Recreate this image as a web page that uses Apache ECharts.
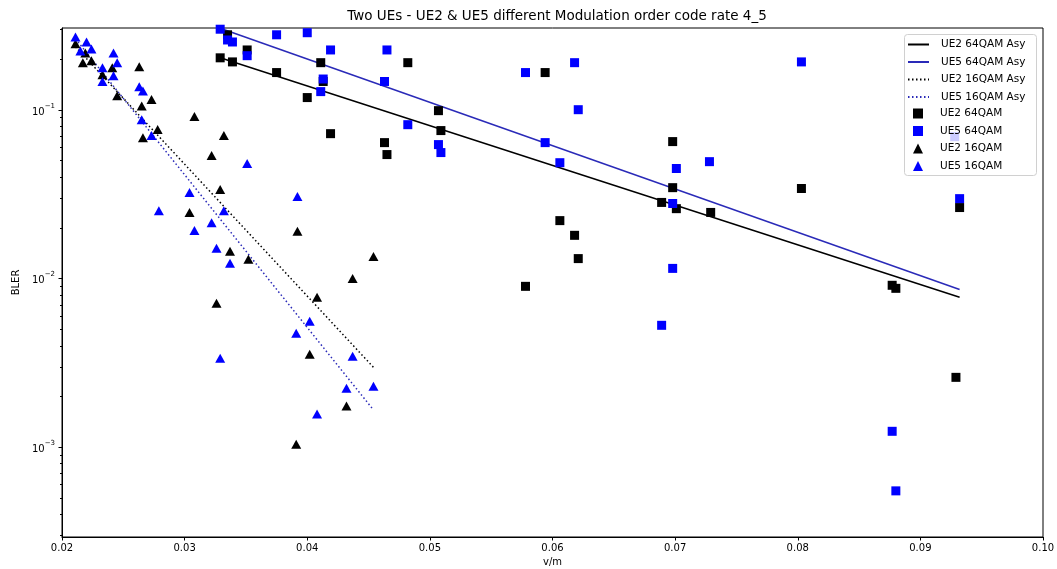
<!DOCTYPE html>
<html>
<head>
<meta charset="utf-8">
<title>Two UEs - BLER</title>
<script src="https://cdn.jsdelivr.net/npm/echarts@6/dist/echarts.min.js"></script>
<style>
  html, body { margin: 0; padding: 0; background: #fff; }
  #chart { width: 1057px; height: 569px; }
</style>
</head>
<body>
<div id="chart"></div>
<script>
const FONT = 'DejaVu Sans';

// UE2 64QAM (black squares)
const ue2Qam64X = [0.0329, 0.0335, 0.0339, 0.0351, 0.0375, 0.0400, 0.0411, 0.0413, 0.0419, 0.0463,
  0.0465, 0.0482, 0.0507, 0.0509, 0.0578, 0.0594, 0.0606, 0.0618, 0.0621, 0.0689,
  0.0698, 0.0698, 0.0701, 0.0729, 0.0803, 0.0877, 0.0880, 0.0929, 0.0932];
const ue2Qam64Y = [0.203, 0.278, 0.192, 0.226, 0.166, 0.118, 0.190, 0.147, 0.0721, 0.0638,
  0.0542, 0.190, 0.0987, 0.0752, 0.00897, 0.166, 0.0220, 0.0180, 0.0131, 0.0282,
  0.0647, 0.0345, 0.0259, 0.0246, 0.0341, 0.0091, 0.00873, 0.00259, 0.0263];

// UE5 64QAM (blue squares)
const ue5Qam64X = [0.0329, 0.0335, 0.0339, 0.0351, 0.0375, 0.0400, 0.0411, 0.0413, 0.0419, 0.0463,
  0.0465, 0.0482, 0.0507, 0.0509, 0.0578, 0.0594, 0.0606, 0.0618, 0.0621, 0.0689,
  0.0698, 0.0698, 0.0701, 0.0728, 0.0803, 0.0877, 0.0880, 0.0928, 0.0932];
const ue5Qam64Y = [0.300, 0.259, 0.252, 0.209, 0.278, 0.286, 0.128, 0.152, 0.226, 0.147,
  0.226, 0.0815, 0.0621, 0.0557, 0.166, 0.0638, 0.0485, 0.190, 0.100, 0.00527,
  0.0278, 0.01146, 0.0448, 0.0492, 0.192, 0.00124, 0.00055, 0.0692, 0.0297];

// UE2 16QAM (black triangles)
const ue2Qam16X = [0.0211, 0.0219, 0.0217, 0.0224, 0.0233, 0.0241, 0.0245, 0.0263, 0.0265, 0.0266,
  0.0273, 0.0278, 0.0304, 0.0308, 0.0322, 0.0326, 0.0329, 0.0332, 0.0337, 0.0352,
  0.0391, 0.0392, 0.0402, 0.0408, 0.0432, 0.0437, 0.0454];
const ue2Qam16Y = [0.246, 0.217, 0.190, 0.195, 0.161, 0.177, 0.121, 0.180, 0.105, 0.0683,
  0.115, 0.0762, 0.0246, 0.0910, 0.0535, 0.00711, 0.0337, 0.0702, 0.0145, 0.0130,
  0.00104, 0.0190, 0.00355, 0.00772, 0.00175, 0.0100, 0.0135];

// UE5 16QAM (blue triangles)
const ue5Qam16X = [0.0211, 0.0215, 0.0220, 0.0224, 0.0233, 0.0233, 0.0242, 0.0242, 0.0245, 0.0263,
  0.0266, 0.0265, 0.0273, 0.0279, 0.0304, 0.0308, 0.0322, 0.0326, 0.0329, 0.0332,
  0.0337, 0.0351, 0.0391, 0.0392, 0.0402, 0.0408, 0.0432, 0.0437, 0.0454];
const ue5Qam16Y = [0.270, 0.223, 0.252, 0.229, 0.177, 0.147, 0.217, 0.159, 0.190, 0.137,
  0.129, 0.0873, 0.0702, 0.0252, 0.0323, 0.0192, 0.0214, 0.0151, 0.00336, 0.0252,
  0.0123, 0.0479, 0.00473, 0.0306, 0.00557, 0.00157, 0.00223, 0.00345, 0.00229];

// fitted (asymptotic) lines, end points
const fit64X = [0.0329, 0.0932];
const fitUe2Qam64 = [0.203, 0.00773];
const fitUe5Qam64 = [0.304, 0.0086];
const fit16X = [0.0211, 0.0454];
const fitUe2Qam16 = [0.236, 0.00297];
const fitUe5Qam16 = [0.263, 0.00166];

// axes
const xMin = 0.02, xMax = 0.10, xStep = 0.01;
const yMin = 0.000293, yMax = 0.305;
const yMajorTicks = [0.001, 0.01, 0.1];
const yMinorTicks = [0.0003, 0.0004, 0.0005, 0.0006, 0.0007, 0.0008, 0.0009,
  0.002, 0.003, 0.004, 0.005, 0.006, 0.007, 0.008, 0.009,
  0.02, 0.03, 0.04, 0.05, 0.06, 0.07, 0.08, 0.09,
  0.2, 0.3];

const lineNames = ['UE2 64QAM Asy', 'UE5 64QAM Asy', 'UE2 16QAM Asy', 'UE5 16QAM Asy'];
const markerNames = ['UE2 64QAM', 'UE5 64QAM', 'UE2 16QAM', 'UE5 16QAM'];

const zip = (xs, ys) => xs.map((x, i) => [x, ys[i]]);

const chart = echarts.init(document.getElementById('chart'), null, { renderer: 'canvas' });

const lineSeries = (name, xs, ys, color, dotted) => ({
  name: name,
  type: 'line',
  data: zip(xs, ys),
  symbol: 'none',
  silent: true,
  lineStyle: { color: color, width: 1.5, type: dotted ? [1.5, 2.5] : 'solid' },
  itemStyle: { color: color },
  z: 2
});

const scatterSeries = (name, xs, ys, color, symbol, size) => ({
  name: name,
  type: 'scatter',
  data: zip(xs, ys),
  symbol: symbol,
  symbolSize: size,
  itemStyle: { color: color, opacity: 1 },
  z: 3
});

// y ticks drawn by hand so that minor ticks sit at 2..9 x 10^k like the original
const tickSeries = {
  type: 'custom',
  silent: true,
  z: 5,
  data: yMajorTicks.map(v => [xMin, v, 3.5]).concat(yMinorTicks.map(v => [xMin, v, 2])),
  renderItem: (params, api) => {
    const p = api.coord([api.value(0), api.value(1)]);
    const y = Math.round(p[1]) + 0.5;
    return {
      type: 'line',
      shape: { x1: p[0] - api.value(2), y1: y, x2: p[0], y2: y },
      style: { stroke: '#000', lineWidth: 1 }
    };
  }
};

const supMap = { '-': '\u2212' };

// hide the little circle echarts puts in the middle of line legend icons
const noDot = { color: 'transparent', opacity: 0, borderWidth: 0 };

const legendText = { fontFamily: FONT, fontSize: 10.5, color: '#000' };

const option = {
  animation: false,
  backgroundColor: '#fff',
  textStyle: { fontFamily: FONT, color: '#000' },
  title: {
    text: 'Two UEs - UE2 & UE5 different Modulation order code rate 4_5',
    left: 552,
    top: 4,
    textAlign: 'center',
    textStyle: { fontFamily: FONT, fontSize: 13.5, fontWeight: 'normal', color: '#000' }
  },
  // legend frame (shared by the two legends below)
  graphic: [{
    type: 'rect',
    left: 904,
    top: 34,
    z: 10,
    silent: true,
    shape: { width: 132, height: 141, r: 3 },
    style: { fill: 'rgba(255,255,255,0.8)', stroke: '#d0d0d0', lineWidth: 1 }
  }],
  legend: [{
    // line handles
    orient: 'vertical',
    left: 904,
    top: 34,
    z: 20,
    padding: [5, 0, 0, 3],
    itemWidth: 21,
    itemHeight: 10,
    itemGap: 6.5,
    selectedMode: false,
    textStyle: Object.assign({ padding: [0, 0, 0, 7] }, legendText),
    data: lineNames.map(n => ({ name: n, itemStyle: noDot }))
  }, {
    // marker handles, narrower so squares stay square
    orient: 'vertical',
    left: 913,
    top: 103,
    z: 20,
    padding: [5, 0, 0, 0],
    itemWidth: 10,
    itemHeight: 10,
    itemGap: 6.5,
    selectedMode: false,
    textStyle: Object.assign({ padding: [0, 0, 0, 12] }, legendText),
    data: [
      { name: markerNames[0], icon: 'rect' },
      { name: markerNames[1], icon: 'rect' },
      { name: markerNames[2], icon: 'triangle' },
      { name: markerNames[3], icon: 'triangle' }
    ]
  }],
  grid: {
    left: 62, right: 14, top: 28, bottom: 32,
    show: true,
    borderColor: '#000',
    borderWidth: 1,
    backgroundColor: 'transparent',
    outerBoundsMode: 'none'
  },
  xAxis: {
    type: 'value',
    min: xMin, max: xMax, interval: xStep,
    name: 'v/m',
    nameLocation: 'middle',
    nameGap: 18,
    nameTextStyle: { fontFamily: FONT, fontSize: 10, color: '#000' },
    axisLine: { lineStyle: { color: '#000', width: 1 } },
    axisTick: { length: 3.5, lineStyle: { color: '#000', width: 1 } },
    axisLabel: { fontFamily: FONT, fontSize: 10, color: '#000', margin: 6, formatter: v => v.toFixed(2) },
    splitLine: { show: false }
  },
  yAxis: {
    type: 'log',
    logBase: 10,
    min: yMin, max: yMax,
    name: 'BLER',
    nameLocation: 'middle',
    nameRotate: 90,
    nameGap: 41,
    nameTextStyle: { fontFamily: FONT, fontSize: 10, color: '#000' },
    axisLine: { lineStyle: { color: '#000', width: 1 } },
    axisTick: { show: false },
    minorTick: { show: false },
    splitLine: { show: false },
    axisLabel: {
      showMinLabel: false,
      showMaxLabel: false,
      margin: 7,
      formatter: v => {
        const e = Math.log10(v);
        const r = Math.round(e);
        if (Math.abs(e - r) > 1e-6) return '';
        const exp = String(r).split('').map(c => supMap[c] || c).join('');
        return '{b|10}{s|' + exp + '}';
      },
      rich: {
        b: { fontFamily: FONT, fontSize: 10, color: '#000', verticalAlign: 'bottom', lineHeight: 15 },
        s: { fontFamily: FONT, fontSize: 7, color: '#000', verticalAlign: 'top', lineHeight: 15 }
      }
    }
  },
  series: [
    lineSeries(lineNames[0], fit64X, fitUe2Qam64, '#000000', false),
    lineSeries(lineNames[1], fit64X, fitUe5Qam64, '#2a2ab8', false),
    lineSeries(lineNames[2], fit16X, fitUe2Qam16, '#000000', true),
    lineSeries(lineNames[3], fit16X, fitUe5Qam16, '#2a2ab8', true),
    scatterSeries(markerNames[0], ue2Qam64X, ue2Qam64Y, '#000000', 'rect', 9),
    scatterSeries(markerNames[1], ue5Qam64X, ue5Qam64Y, '#0000ff', 'rect', 9),
    scatterSeries(markerNames[2], ue2Qam16X, ue2Qam16Y, '#000000', 'triangle', [10, 9]),
    scatterSeries(markerNames[3], ue5Qam16X, ue5Qam16Y, '#0000ff', 'triangle', [10, 9]),
    tickSeries
  ]
};

chart.setOption(option);
</script>
</body>
</html>
